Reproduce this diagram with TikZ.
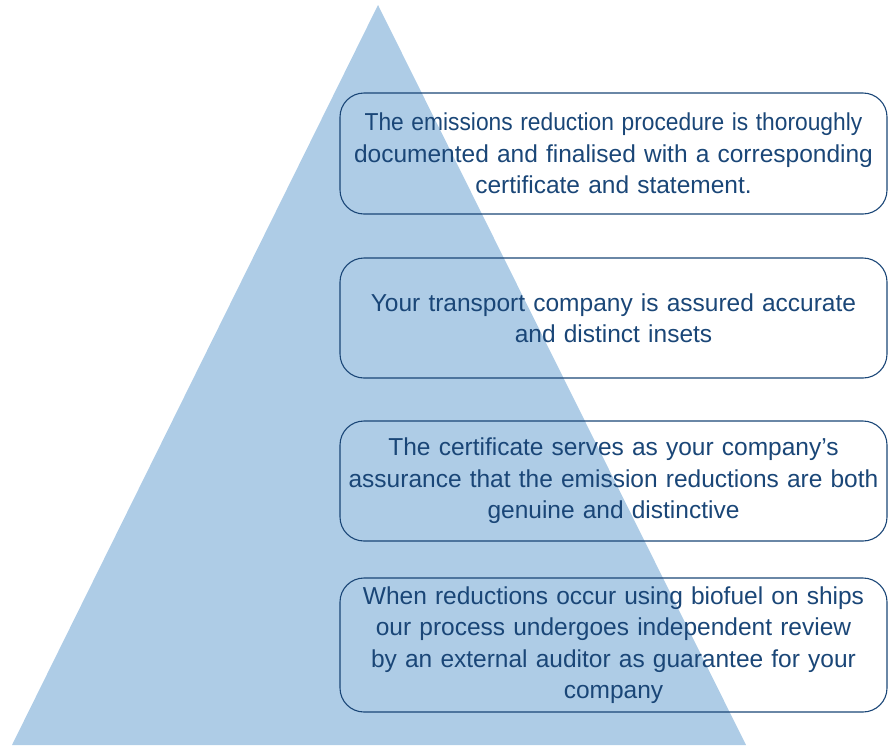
\documentclass[tikz,border=0pt]{standalone}
\usepackage{fontspec}
\usepackage{graphicx}
\setmainfont{Liberation Sans}
\definecolor{pyramidblue}{HTML}{AECCE6}
\definecolor{navy}{HTML}{1A4677}

\begin{document}
\begin{tikzpicture}%
[x=1pt, y=-1pt,%
stepbox/.style={draw=navy, line width=1.1pt, rounded corners=24pt, fill=none,%
  minimum width=547pt, text width=545pt, align=center, text=navy, inner sep=0pt,%
  font=\fontsize{24.5}{31.5}\selectfont}]

\useasboundingbox (0,0) rectangle (888,745);

\coordinate (top) at (378,5);
\coordinate (baseL) at (12,745);
\coordinate (baseR) at (746,745);
\fill[pyramidblue] (top) -- (baseR) -- (baseL) -- cycle;

\node[stepbox, minimum height=121pt] (certificate) at (613.5,153.5)
  {\scalebox{0.93}[1]{The emissions reduction procedure is thoroughly}\\documented and finalised with a corresponding\\certificate and statement.};
\node[stepbox, minimum height=120pt] (insets) at (613.5,318)
  {Your transport company is assured accurate\\and distinct insets};
\node[stepbox, minimum height=120pt] (assurance) at (613.5,481)
  {The certificate serves as your company’s\\assurance that the emission reductions are both\\genuine and distinctive};
\node[stepbox, minimum height=134pt] (review) at (613.5,645)
  {When reductions occur using biofuel on ships\\our process undergoes independent review\\by an external auditor as guarantee for your\\company};
\end{tikzpicture}
\end{document}
